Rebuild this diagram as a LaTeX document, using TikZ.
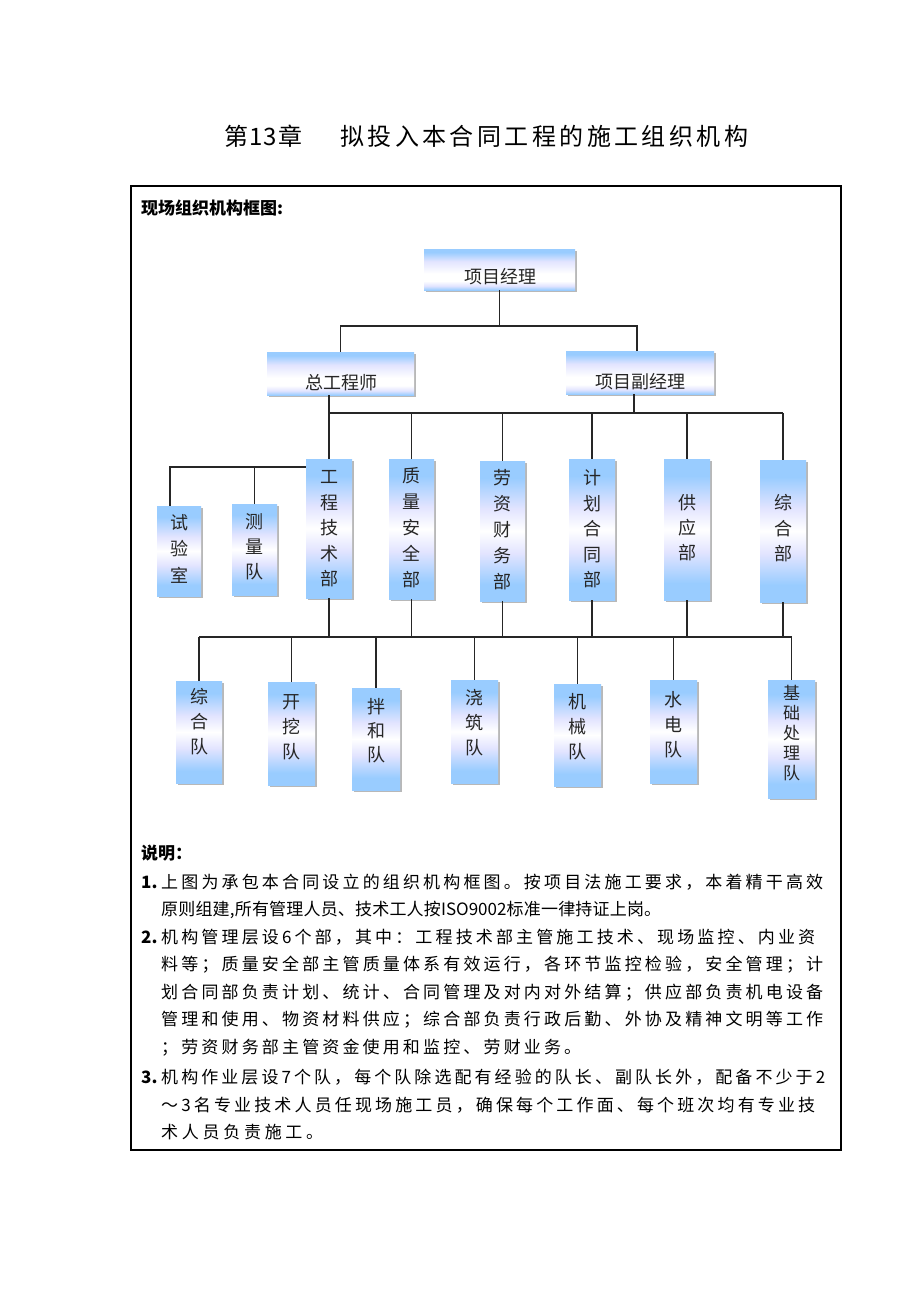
\documentclass[tikz,border=0pt]{standalone}
\usepackage{fontspec}
\setmainfont{Noto Sans CJK SC}
\usetikzlibrary{shadows}
\definecolor{bl}{RGB}{153,204,255}
\definecolor{lav}{RGB}{226,228,255}
\pgfdeclareverticalshading{vshade}{100bp}{color(0bp)=(bl); color(25bp)=(bl); color(31bp)=(bl); color(42bp)=(lav); color(50bp)=(white); color(58bp)=(lav); color(69bp)=(bl); color(75bp)=(bl); color(100bp)=(bl)}
\pgfdeclareverticalshading{hshade}{100bp}{color(0bp)=(bl); color(25bp)=(bl); color(30bp)=(lav); color(36bp)=(white); color(45bp)=(white); color(60bp)=(lav); color(71bp)=(bl); color(75bp)=(bl); color(100bp)=(bl)}
\makeatletter
\def\sp@end{}
\def\sp@stop\sp@end{}
\def\sp@a#1{#1\@ifnextchar\sp@end{\sp@stop}{\hfill\sp@a}}
\newcommand\spreadline[2]{\hbox to #1{\sp@a#2\sp@end}}
\makeatother
\tikzset{
  conn/.style={draw=black!85, line width=1.2pt},
  orgbox/.style={inner sep=0pt, shade, shading=vshade,
    drop shadow={shadow xshift=1.5pt, shadow yshift=-1.5pt, fill=black!28, opacity=1}},
  hbar/.style={orgbox, shading=hshade},
  lbl/.style={inner sep=0pt, align=center, text=black!85, font=\fontsize{18}{25.5}\selectfont},
  note/.style={inner sep=0pt, anchor=west, font=\fontsize{17}{20}\selectfont},
}
\begin{document}
\begin{tikzpicture}[x=1pt, y=-1pt]
\useasboundingbox[fill=white] (0,0) rectangle (920,1302);
% title
\node[inner sep=0pt, anchor=west, font=\fontsize{24}{28}\selectfont] (tt1) at (224,136) {\spreadline{78pt}{第{13}章}};
\node[inner sep=0pt, anchor=west, font=\fontsize{24}{28}\selectfont] (tt2) at (340,136) {\spreadline{408pt}{拟投入本合同工程的施工组织机构}};
% frame
\draw[line width=2pt] (131,186) rectangle (841,1150);
\node[note, font=\fontsize{17}{20}\selectfont\bfseries] (head) at (141,208) {现场组织机构框图:};

% level 1 and 2
\node[hbar, minimum width=151pt, minimum height=41pt] (pm) at (499.5,269.5) {};
\node[lbl] (pmt) at (500,277) {项目经理};
\node[hbar, minimum width=147pt, minimum height=43pt] (ce) at (340.5,373.5) {};
\node[lbl] (cet) at (341.5,383) {总工程师};
\node[hbar, minimum width=148pt, minimum height=43pt] (dpm) at (640,372.5) {};
\node[lbl] (dpmt) at (640,382) {项目副经理};

% departments
\node[orgbox, minimum width=46pt, minimum height=139pt] (d1) at (329,528.5) {};
\node[lbl] (d1t) at (329,529) {工\\程\\技\\术\\部};
\node[orgbox, minimum width=45pt, minimum height=140pt] (d2) at (411.5,529) {};
\node[lbl, font=\fontsize{18}{26}\selectfont] (d2t) at (411.5,528) {质\\量\\安\\全\\部};
\node[orgbox, minimum width=45pt, minimum height=140pt] (d3) at (502.5,531) {};
\node[lbl, font=\fontsize{18}{26}\selectfont] (d3t) at (502.5,530) {劳\\资\\财\\务\\部};
\node[orgbox, minimum width=46pt, minimum height=141pt] (d4) at (592,529.5) {};
\node[lbl] (d4t) at (592,529) {计\\划\\合\\同\\部};
\node[orgbox, minimum width=46pt, minimum height=141pt] (d5) at (687,529.5) {};
\node[lbl, font=\fontsize{18}{25}\selectfont] (d5t) at (687,528) {供\\应\\部};
\node[orgbox, minimum width=46pt, minimum height=142pt] (d6) at (783,531) {};
\node[lbl] (d6t) at (783,528.5) {综\\合\\部};
\node[orgbox, minimum width=44pt, minimum height=90pt] (lab) at (179,551) {};
\node[lbl, font=\fontsize{18}{26.5}\selectfont] (labt) at (179,548.5) {试\\验\\室};
\node[orgbox, minimum width=45pt, minimum height=91pt] (sur) at (254.5,549.5) {};
\node[lbl, font=\fontsize{18}{25}\selectfont] (surt) at (254.5,547) {测\\量\\队};

% teams
\node[orgbox, minimum width=46pt, minimum height=102pt] (t1) at (199,732) {};
\node[lbl, font=\fontsize{18}{25}\selectfont] (t1t) at (199,722) {综\\合\\队};
\node[orgbox, minimum width=47pt, minimum height=103pt] (t2) at (291.5,733.5) {};
\node[lbl, font=\fontsize{18}{25}\selectfont] (t2t) at (291.5,727) {开\\挖\\队};
\node[orgbox, minimum width=48pt, minimum height=102pt] (t3) at (376,739) {};
\node[lbl, font=\fontsize{18}{24}\selectfont] (t3t) at (376,731) {拌\\和\\队};
\node[orgbox, minimum width=47pt, minimum height=103pt] (t4) at (474.5,731.5) {};
\node[lbl, font=\fontsize{18}{25}\selectfont] (t4t) at (474.5,723) {浇\\筑\\队};
\node[orgbox, minimum width=47pt, minimum height=102pt] (t5) at (577.5,735) {};
\node[lbl, font=\fontsize{18}{25}\selectfont] (t5t) at (577.5,727) {机\\械\\队};
\node[orgbox, minimum width=47pt, minimum height=103pt] (t6) at (673.5,731.5) {};
\node[lbl, font=\fontsize{18}{25}\selectfont] (t6t) at (673.5,725) {水\\电\\队};
\node[orgbox, minimum width=47pt, minimum height=118pt] (t7) at (791.5,739) {};
\node[lbl, font=\fontsize{17}{20}\selectfont] (t7t) at (791.5,733) {基\\础\\处\\理\\队};

% connectors
\coordinate (b1) at (499.5,326);
\coordinate (b2) at (0,413);
\coordinate (b3) at (0,637);
\coordinate (lb) at (170,467);
\draw[conn] (pm.south) -- (b1);
\draw[conn] (ce.north) |- (b1) -| ([xshift=-3pt]dpm.north);
\draw[conn] (ce.south -| d1.north) -- (d1.north);
\draw[conn] ([xshift=-6pt]dpm.south) -- ([xshift=-6pt]dpm.south |- b2);
\draw[conn] (d1.north |- b2) -- (d6.north |- b2);
\foreach \d in {d2,d3,d4,d5,d6} \draw[conn] (\d.north) -- (\d.north |- b2);
\draw[conn] (d1.north west |- lb) -- (lb) -- (lb |- lab.north);
\draw[conn] (sur.north) -- (sur.north |- lb);
\foreach \d in {d1,d2,d3,d4,d5,d6} \draw[conn] (\d.south) -- (\d.south |- b3);
\draw[conn] (t1.north |- b3) -- (t7.north |- b3);
\foreach \t in {t1,t2,t3,t4,t5,t6,t7} \draw[conn] (\t.north) -- (\t.north |- b3);

% notes
\node[note, font=\fontsize{17}{20}\selectfont\bfseries] (sm) at (141,853) {说明：};
\node[note, font=\fontsize{17}{20}\selectfont\bfseries] (n1) at (141,882) {1.};
\node[note] (l1) at (161,882) {\spreadline{662pt}{上图为承包本合同设立的组织机构框图。按项目法施工要求，本着精干高效}};
\node[note] (l2) at (161,910) {\spreadline{500pt}{原则组建,所有管理人员、技术工人按{ISO9002}标准一律持证上岗。}};
\node[note, font=\fontsize{17}{20}\selectfont\bfseries] (n2) at (141,937) {2.};
\node[note] (l3) at (161,937) {\spreadline{654pt}{机构管理层设6个部，其中：工程技术部主管施工技术、现场监控、内业资}};
\node[note] (l4) at (161,965) {\spreadline{662pt}{料等；质量安全部主管质量体系有效运行，各环节监控检验，安全管理；计}};
\node[note] (l5) at (161,993) {\spreadline{662pt}{划合同部负责计划、统计、合同管理及对内对外结算；供应部负责机电设备}};
\node[note] (l6) at (161,1020) {\spreadline{662pt}{管理和使用、物资材料供应；综合部负责行政后勤、外协及精神文明等工作}};
\node[note] (l7) at (161,1048) {\spreadline{420pt}{；劳资财务部主管资金使用和监控、劳财业务。}};
\node[note, font=\fontsize{17}{20}\selectfont\bfseries] (n3) at (141,1077) {3.};
\node[note] (l8) at (161,1077) {\spreadline{664pt}{机构作业层设7个队，每个队除选配有经验的队长、副队长外，配备不少于2}};
\node[note] (l9) at (161,1105) {\spreadline{654pt}{～3名专业技术人员任现场施工员，确保每个工作面、每个班次均有专业技}};
\node[note] (l10) at (161,1132) {\spreadline{162pt}{术人员负责施工。}};
\end{tikzpicture}
\end{document}
